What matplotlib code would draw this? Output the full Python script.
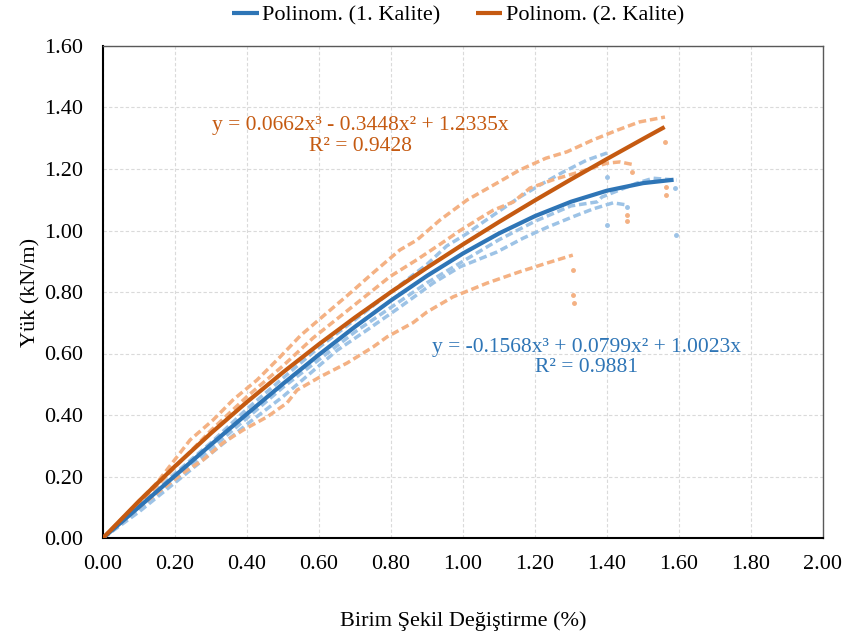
import matplotlib
matplotlib.use("Agg")
import matplotlib.pyplot as plt
from matplotlib.ticker import FormatStrFormatter

plt.rcParams['font.family'] = ['Liberation Serif', 'DejaVu Serif']

# --- measured specimens, 1. Kalite (blue) ---
b1_x = [0, 0.1, 0.2, 0.3, 0.4, 0.5, 0.6, 0.7, 0.8, 0.9, 0.955, 1.011, 1.047, 1.103, 1.158, 1.214, 1.278, 1.344, 1.40]
b1_y = [0, 0.10, 0.21, 0.31, 0.42, 0.52, 0.62, 0.71, 0.80, 0.89, 0.95, 0.99, 1.02, 1.065, 1.109, 1.148, 1.19, 1.229, 1.252]
b2_x = [0, 0.1, 0.2, 0.3, 0.4, 0.5, 0.6, 0.7, 0.8, 0.9, 1.0, 1.1, 1.2, 1.3, 1.372, 1.386, 1.483, 1.528, 1.594]
b2_y = [0, 0.09, 0.19, 0.29, 0.39, 0.49, 0.58, 0.67, 0.75, 0.83, 0.90, 0.97, 1.03, 1.08, 1.093, 1.109, 1.154, 1.17, 1.164]
b3_x = [0, 0.1, 0.2, 0.3, 0.4, 0.5, 0.6, 0.65, 0.733, 0.825, 0.917, 0.992, 1.094, 1.167, 1.233, 1.306, 1.361, 1.417, 1.455]
b3_y = [0, 0.085, 0.18, 0.275, 0.37, 0.46, 0.56, 0.61, 0.676, 0.751, 0.829, 0.882, 0.93, 0.975, 1.01, 1.045, 1.07, 1.09, 1.083]
b_drop_x = [1.40, 1.40, 1.59, 1.593, 1.455]
b_drop_y = [1.174, 1.018, 1.138, 0.985, 1.077]

# --- measured specimens, 2. Kalite (orange) ---
o1_x = [0, 0.05, 0.1, 0.15, 0.242, 0.306, 0.361, 0.428, 0.492, 0.55, 0.62, 0.69, 0.75, 0.825, 0.872, 0.936, 1.011, 1.094, 1.158, 1.23, 1.289, 1.36, 1.43, 1.49, 1.561]
o1_y = [0, 0.06, 0.12, 0.18, 0.319, 0.384, 0.449, 0.514, 0.589, 0.66, 0.73, 0.80, 0.862, 0.937, 0.969, 1.034, 1.099, 1.154, 1.197, 1.235, 1.256, 1.294, 1.327, 1.353, 1.369]
o2_x = [0, 0.1, 0.2, 0.3, 0.4, 0.5, 0.583, 0.658, 0.733, 0.797, 0.872, 0.936, 0.992, 1.047, 1.084, 1.14, 1.186, 1.25, 1.325, 1.40, 1.436, 1.478]
o2_y = [0, 0.11, 0.23, 0.35, 0.46, 0.56, 0.65, 0.72, 0.79, 0.85, 0.905, 0.955, 1.00, 1.04, 1.066, 1.093, 1.138, 1.165, 1.191, 1.219, 1.223, 1.213]
o3_x = [0, 0.1, 0.222, 0.278, 0.333, 0.389, 0.456, 0.511, 0.539, 0.603, 0.678, 0.75, 0.789, 0.861, 0.9, 0.972, 1.067, 1.158, 1.233, 1.305]
o3_y = [0, 0.10, 0.211, 0.254, 0.309, 0.351, 0.394, 0.439, 0.481, 0.524, 0.569, 0.621, 0.654, 0.70, 0.735, 0.784, 0.829, 0.866, 0.894, 0.92]
o_drop_x = [1.561, 1.563, 1.565, 1.47, 1.455, 1.455, 1.305, 1.306, 1.307]
o_drop_y = [1.289, 1.143, 1.115, 1.19, 1.05, 1.03, 0.872, 0.79, 0.764]

# --- polynomial trendlines ---
t1_x = [0, 0.1, 0.2, 0.3, 0.4, 0.5, 0.6, 0.7, 0.8, 0.9, 1.0, 1.1, 1.2, 1.3, 1.4, 1.5, 1.585]
t1_y = [0, 0.1009, 0.2024, 0.3037, 0.4037, 0.5015, 0.5963, 0.6870, 0.7727, 0.8525, 0.9254,
        0.9905, 1.0469, 1.0935, 1.1296, 1.1540, 1.1650]
t2_x = [0, 0.1, 0.2, 0.3, 0.4, 0.5, 0.6, 0.7, 0.8, 0.9, 1.0, 1.1, 1.2, 1.3, 1.4, 1.5, 1.56]
t2_y = [0, 0.1200, 0.2334, 0.3408, 0.4425, 0.5388, 0.6303, 0.7172, 0.8000, 0.8791, 0.9549,
        1.0278, 1.0981, 1.1663, 1.2328, 1.2979, 1.3365]

eq1 = ["y = -0.1568x³ + 0.0799x² + 1.0023x", "R² = 0.9881"]
eq2 = ["y = 0.0662x³ - 0.3448x² + 1.2335x", "R² = 0.9428"]

BLUE, LBLUE = '#2E75B6', '#9DC3E6'
ORANGE, LORANGE = '#C55A11', '#F4B183'

fig = plt.figure(figsize=(8.47, 6.35), dpi=100)
ax = fig.add_axes([103/847, 1-538/635, 720/847, 492/635])

# measured points look like a dense broken trail, so draw them as dashed strokes
dash = (0, (2.2, 1.1))
for xs, ys in [(b1_x, b1_y), (b2_x, b2_y), (b3_x, b3_y)]:
    ax.plot(xs, ys, color=LBLUE, lw=2.5, linestyle=dash, zorder=2)
ax.plot(b_drop_x, b_drop_y, 'o', color=LBLUE, ms=2.5, zorder=2)
for xs, ys in [(o1_x, o1_y), (o2_x, o2_y), (o3_x, o3_y)]:
    ax.plot(xs, ys, color=LORANGE, lw=2.5, linestyle=dash, zorder=3)
ax.plot(o_drop_x, o_drop_y, 'o', color=LORANGE, ms=2.5, zorder=3)

l1, = ax.plot(t1_x, t1_y, color=BLUE, lw=3.0, solid_capstyle='butt', zorder=4, label='Polinom. (1. Kalite)')
l2, = ax.plot(t2_x, t2_y, color=ORANGE, lw=3.0, solid_capstyle='butt', zorder=5, label='Polinom. (2. Kalite)')

ax.text(1.344, 0.618, eq1[0], color=BLUE, fontsize=15.5, ha='center', va='center')
ax.text(1.344, 0.553, eq1[1], color=BLUE, fontsize=15.5, ha='center', va='center')
ax.text(0.714, 1.343, eq2[0], color=ORANGE, fontsize=15.5, ha='center', va='center')
ax.text(0.714, 1.272, eq2[1], color=ORANGE, fontsize=15.5, ha='center', va='center')

ax.set_xlim(0, 2.0)
ax.set_ylim(0, 1.6)
ax.set_xticks([i * 0.2 for i in range(11)])
ax.set_yticks([i * 0.2 for i in range(9)])
ax.xaxis.set_major_formatter(FormatStrFormatter('%.2f'))
ax.yaxis.set_major_formatter(FormatStrFormatter('%.2f'))
ax.tick_params(axis='both', length=0, labelsize=16)
ax.tick_params(axis='x', pad=12)
ax.tick_params(axis='y', pad=14)
ax.grid(True, color='#DADADA', linestyle=(0, (3, 2)), lw=0.8)
ax.set_axisbelow(True)

for s in ['left', 'bottom']:
    ax.spines[s].set_color('black')
    ax.spines[s].set_linewidth(1.5)
for s in ['top', 'right']:
    ax.spines[s].set_color('#595959')
    ax.spines[s].set_linewidth(1.0)

fig.text(463/847, 1-621/635, 'Birim Şekil Değiştirme (%)', fontsize=16, ha='center', va='center')
fig.text(31/847, 1-292/635, 'Yük (kN/m)', fontsize=16, ha='center', va='center', rotation=90)

fig.legend(handles=[l1, l2], loc='center', bbox_to_anchor=(458/847, 1-15/635), ncol=2,
           frameon=False, fontsize=16, handlelength=1.2, handletextpad=0.15, columnspacing=1.6,
           borderaxespad=0, borderpad=0)

fig.savefig('out.png', dpi=100)
